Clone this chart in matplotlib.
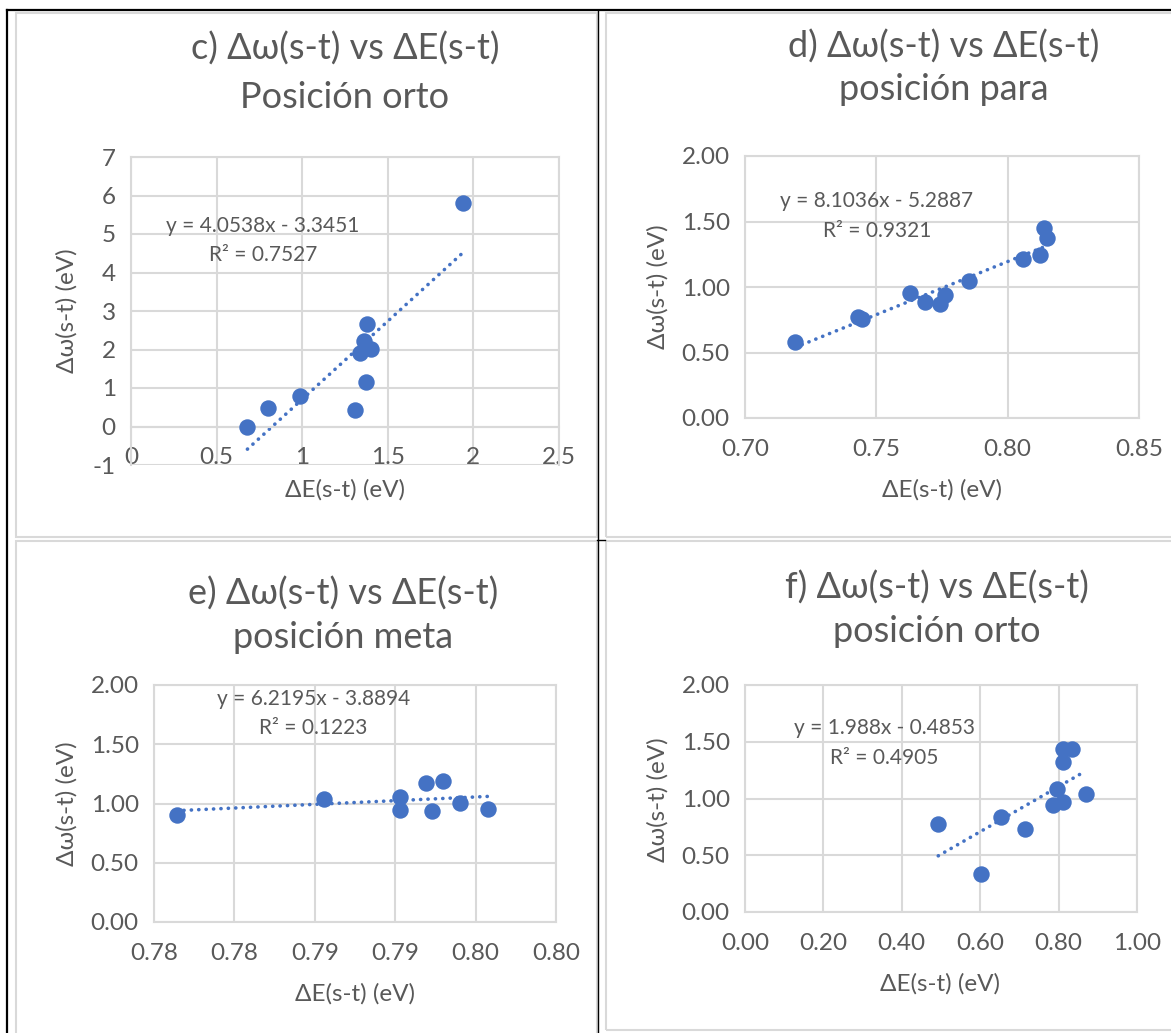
import numpy as np
import matplotlib
matplotlib.use('Agg')
import matplotlib.pyplot as plt
from matplotlib.lines import Line2D
from matplotlib.patches import Rectangle

plt.rcParams['font.family'] = ['Lato', 'DejaVu Sans']

# c) posición orto
c_x = [0.68, 0.80, 0.99, 1.31, 1.34, 1.36, 1.40, 1.38, 1.37, 1.94]
c_y = [0.00, 0.49, 0.80, 0.42, 1.91, 2.21, 2.01, 2.66, 1.15, 5.80]
c_fit = (4.0538, -3.3451, 0.7527)

# d) posición para
d_x = [0.7191, 0.7430, 0.7444, 0.7628, 0.7686, 0.7742, 0.7760, 0.7853,
       0.8059, 0.8122, 0.8140, 0.8151]
d_y = [0.582, 0.768, 0.755, 0.957, 0.883, 0.873, 0.936, 1.049,
       1.211, 1.245, 1.447, 1.371]
d_fit = (8.1036, -5.2887, 0.9321)

# e) posición meta
e_x = [0.7764, 0.7856, 0.7903, 0.7903, 0.7919, 0.7923, 0.7930, 0.7940, 0.7958]
e_y = [0.907, 1.034, 1.056, 0.944, 1.177, 0.938, 1.192, 1.006, 0.955]
e_fit = (6.2195, -3.8894, 0.1223)
e_xticklabels = ['0.78', '0.78', '0.79', '0.79', '0.80', '0.80']

# f) posición orto
f_x = [0.493, 0.602, 0.652, 0.715, 0.786, 0.797, 0.811, 0.810, 0.811, 0.833, 0.869]
f_y = [0.776, 0.338, 0.841, 0.729, 0.947, 1.088, 0.968, 1.321, 1.432, 1.432, 1.044]
f_fit = (1.988, -0.4853, 0.4905)

W, H = 1171, 1033
BLUE = '#4472C4'
GREY = '#595959'
GRID = '#d9d9d9'
TITLE_FS = 26
EQ_FS = 15
LABEL_FS = 17.5
TICK_FS = 17.5

fig = plt.figure(figsize=(W / 100, H / 100), dpi=100)


def box(l, t, r, b):
    return [l / W, 1 - b / H, (r - l) / W, (b - t) / H]


def ftext(x, y, s, **kw):
    fig.text(x / W, 1 - y / H, s, ha='center', va='center', color=GREY, **kw)


def panel(pos, x, y, fit, xlim, ylim, xticks, yticks, yfmt, xlabels=None):
    ax = fig.add_axes(box(*pos))
    ax.set_xlim(xlim)
    ax.set_ylim(ylim)
    ax.set_xticks(xticks)
    ax.set_yticks(yticks)
    if xlabels is not None:
        ax.set_xticklabels(xlabels)
    ax.yaxis.set_major_formatter(plt.FormatStrFormatter(yfmt))
    ax.grid(True, color=GRID, lw=1.5)
    ax.set_axisbelow(True)
    for s in ax.spines.values():
        s.set_color(GRID)
        s.set_linewidth(1.5)
    ax.tick_params(length=0, labelsize=TICK_FS, colors=GREY)
    ax.tick_params(axis='x', pad=15)
    ax.tick_params(axis='y', pad=11)
    ax.scatter(x, y, s=140, color=BLUE, zorder=3, linewidths=0)
    xs = np.array([min(x), max(x)])
    ax.plot(xs, fit[0] * xs + fit[1], color=BLUE, lw=2.6,
            linestyle=(0, (0.05, 2.0)), dash_capstyle='round', zorder=2)
    return ax


# table borders
fig.add_artist(Line2D([7 / W, 1], [1 - 10 / H] * 2, color='black', lw=1.6))
fig.add_artist(Line2D([7 / W] * 2, [0, 1 - 10 / H], color='black', lw=1.6))
fig.add_artist(Line2D([597.5 / W] * 2, [0, 1 - 10 / H], color='black', lw=1.0))
for l, t, r, b in [(15.5, 12.5, 597, 537), (605.5, 12.5, 1175, 537),
                   (15.5, 541, 597, 1040), (605.5, 541, 1175, 1030)]:
    fig.add_artist(Rectangle((l / W, 1 - b / H), (r - l) / W, (b - t) / H,
                             fill=False, ec=GRID, lw=1.5))
fig.add_artist(Line2D([597 / W, 605 / W], [1 - 539.5 / H] * 2, color='black', lw=1.0))

# c
ax = panel((131, 157, 559, 465), c_x, c_y, c_fit, (0, 2.5), (-1, 7),
           [0, 0.5, 1, 1.5, 2, 2.5], range(-1, 8), '%d')
ax.spines['bottom'].set_position(('data', 0))
ax.set_xticklabels(['0', '0.5', '1', '1.5', '2', '2.5'])
ftext(345, 49, 'c) Δω(s-t) vs ΔE(s-t)', fontsize=TITLE_FS)
ftext(345, 98, 'Posición orto', fontsize=TITLE_FS)
ftext(263, 226, 'y = 4.0538x - 3.3451', fontsize=EQ_FS)
ftext(263, 255, 'R² = 0.7527', fontsize=EQ_FS)
ftext(345, 490, 'ΔE(s-t) (eV)', fontsize=LABEL_FS)
ftext(67, 311, 'Δω(s-t) (eV)', fontsize=LABEL_FS, rotation=90)

# d
panel((745, 156, 1139, 418), d_x, d_y, d_fit, (0.70, 0.85), (0, 2),
      [0.70, 0.75, 0.80, 0.85], [0, 0.5, 1, 1.5, 2], '%.2f')
ftext(944, 47, 'd) Δω(s-t) vs ΔE(s-t)', fontsize=TITLE_FS)
ftext(944, 90, 'posición para', fontsize=TITLE_FS)
ftext(877, 201, 'y = 8.1036x - 5.2887', fontsize=EQ_FS)
ftext(877, 231, 'R² = 0.9321', fontsize=EQ_FS)
ftext(942, 490, 'ΔE(s-t) (eV)', fontsize=LABEL_FS)
ftext(658, 287, 'Δω(s-t) (eV)', fontsize=LABEL_FS, rotation=90)

# e
panel((154, 685, 556, 922), e_x, e_y, e_fit, (0.775, 0.800), (0, 2),
      np.arange(0.775, 0.8001, 0.005), [0, 0.5, 1, 1.5, 2], '%.2f',
      xlabels=e_xticklabels)
ftext(343, 594, 'e) Δω(s-t) vs ΔE(s-t)', fontsize=TITLE_FS)
ftext(343, 638, 'posición meta', fontsize=TITLE_FS)
ftext(314, 699, 'y = 6.2195x - 3.8894', fontsize=EQ_FS)
ftext(313, 728, 'R² = 0.1223', fontsize=EQ_FS)
ftext(355, 994, 'ΔE(s-t) (eV)', fontsize=LABEL_FS)
ftext(67, 804, 'Δω(s-t) (eV)', fontsize=LABEL_FS, rotation=90)

# f
panel((745, 685, 1137, 912), f_x, f_y, f_fit, (0, 1), (0, 2),
      [0, 0.2, 0.4, 0.6, 0.8, 1.0], [0, 0.5, 1, 1.5, 2], '%.2f',
      xlabels=['0.00', '0.20', '0.40', '0.60', '0.80', '1.00'])
ftext(937, 588, 'f) Δω(s-t) vs ΔE(s-t)', fontsize=TITLE_FS)
ftext(937, 631, 'posición orto', fontsize=TITLE_FS)
ftext(884, 728, 'y = 1.988x - 0.4853', fontsize=EQ_FS)
ftext(884, 758, 'R² = 0.4905', fontsize=EQ_FS)
ftext(940, 984, 'ΔE(s-t) (eV)', fontsize=LABEL_FS)
ftext(658, 800, 'Δω(s-t) (eV)', fontsize=LABEL_FS, rotation=90)

fig.savefig('out.png', dpi=100)
